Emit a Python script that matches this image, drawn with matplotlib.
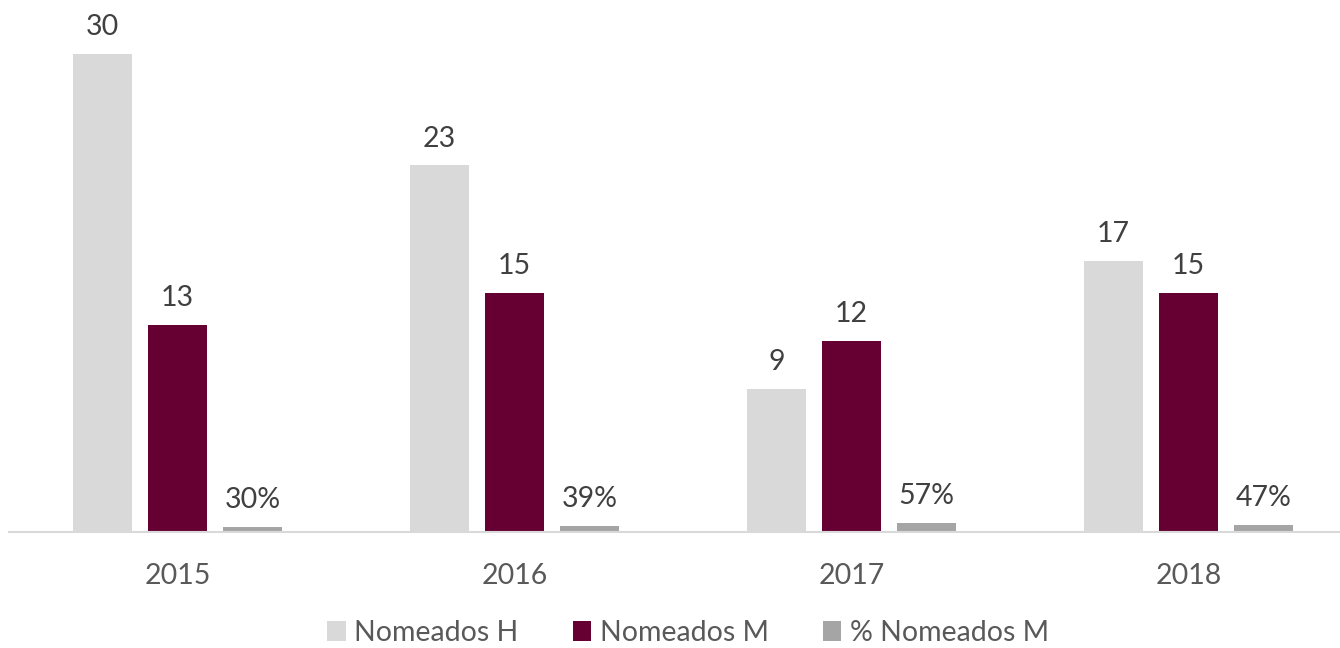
import numpy as np
import matplotlib.pyplot as plt

plt.rcParams['font.family'] = ['Lato', 'DejaVu Sans']

years = ['2015', '2016', '2017', '2018']
nomeados_h = [30, 23, 9, 17]
nomeados_m = [13, 15, 12, 15]
pct_nomeados_m = [0.30, 0.39, 0.57, 0.47]

series = [
    ('Nomeados H', nomeados_h, '#D9D9D9', lambda v: '%d' % v),
    ('Nomeados M', nomeados_m, '#660033', lambda v: '%d' % v),
    ('% Nomeados M', pct_nomeados_m, '#A5A5A5', lambda v: '%d%%' % round(v * 100)),
]

fig = plt.figure(figsize=(13.4, 6.48), dpi=100)
ax = fig.add_axes([9 / 1340, 1 - 532 / 648, 1348 / 1340, 510 / 648])

x = np.arange(len(years))
step = 0.2226
width = 0.173
text_color = '#404040'
fs = 20.5

for i, (name, vals, color, fmt) in enumerate(series):
    pos = x + (i - 1) * step
    bars = ax.bar(pos, vals, width, color=color, label=name, zorder=2)
    for b, v in zip(bars, vals):
        ax.annotate(fmt(v), (b.get_x() + b.get_width() / 2, b.get_height()),
                    xytext=(0, 10), textcoords='offset points',
                    ha='center', va='bottom', fontsize=fs, color=text_color)

ax.set_xlim(-0.5, 3.5)
ax.set_ylim(0, 32)
ax.set_xticks(x)
ax.set_xticklabels(years, fontsize=fs, color='#595959')
ax.tick_params(axis='x', length=0, pad=22)
ax.set_yticks([])
for s in ['top', 'right', 'left']:
    ax.spines[s].set_visible(False)
ax.spines['bottom'].set_color('#D9D9D9')
ax.spines['bottom'].set_linewidth(1.5)

leg = fig.legend(loc='center', bbox_to_anchor=(688 / 1340, 1 - 633 / 648), ncol=3,
                 frameon=False, fontsize=fs, handlelength=0.65, handleheight=0.65,
                 handletextpad=0.3, columnspacing=1.9)
for t in leg.get_texts():
    t.set_color('#595959')

fig.savefig('out.png', dpi=100)
